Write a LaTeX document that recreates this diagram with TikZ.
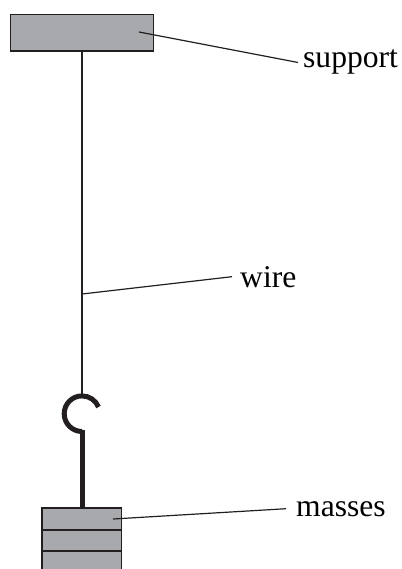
\documentclass[tikz,border=0pt]{standalone}
\usepackage{fontspec}
\setmainfont{Liberation Serif}
\definecolor{inkc}{HTML}{231F20}
\definecolor{fillc}{HTML}{A7A9AC}
\tikzset{
  part/.style={draw=inkc,fill=fillc,line width=1.8pt,inner sep=0pt,outer sep=0pt,minimum width=#1,anchor=north west},
  lead/.style={draw=inkc,line width=1.2pt},
  wireline/.style={draw=inkc,line width=2.1pt},
  hookline/.style={draw=inkc,line width=5pt},
  lab/.style={font=\fontsize{31.6}{32}\selectfont,inner sep=0pt,text=black}
}
\begin{document}
\begin{tikzpicture}[x=1pt,y=-1pt]
\useasboundingbox (0,0) rectangle (401,569);
\clip (0,0) rectangle (401,569);
\node[part=143pt,minimum height=36.5pt] (support) at (10.5,14.5) {};
\node[part=79.5pt,minimum height=22pt] (m1) at (42,508) {};
\node[part=79.5pt,minimum height=21pt] (m2) at (42,530) {};
\node[part=79.5pt,minimum height=30pt] (m3) at (42,551) {};
\node[lab,anchor=base west] (tsupport) at (303,68) {support};
\node[lab,anchor=base west] (twire) at (240,287) {wire};
\node[lab,anchor=base west] (tmasses) at (296,516) {masses};
\coordinate (wtop) at (support.south);
\coordinate (hooktop) at (82,397);
\coordinate (wirejoin) at (82,294);
\coordinate (supin) at (139,32);
\coordinate (masin) at (113,519);
\coordinate (hookbot) at (82,431.5);
\draw[wireline] (wtop) -- (hooktop);
\draw[hookline] (hookbot) arc[start angle=270,delta angle=-248,radius=17.8pt];
\draw[hookline] ([yshift=1.5pt]hookbot) -- (m1.north -| hookbot);
\draw[lead] (supin) -- ([xshift=-5pt]tsupport.west);
\draw[lead] (wirejoin) -- ([xshift=-8pt]twire.west);
\draw[lead] (masin) -- ([xshift=-10pt]tmasses.west);
\end{tikzpicture}
\end{document}
